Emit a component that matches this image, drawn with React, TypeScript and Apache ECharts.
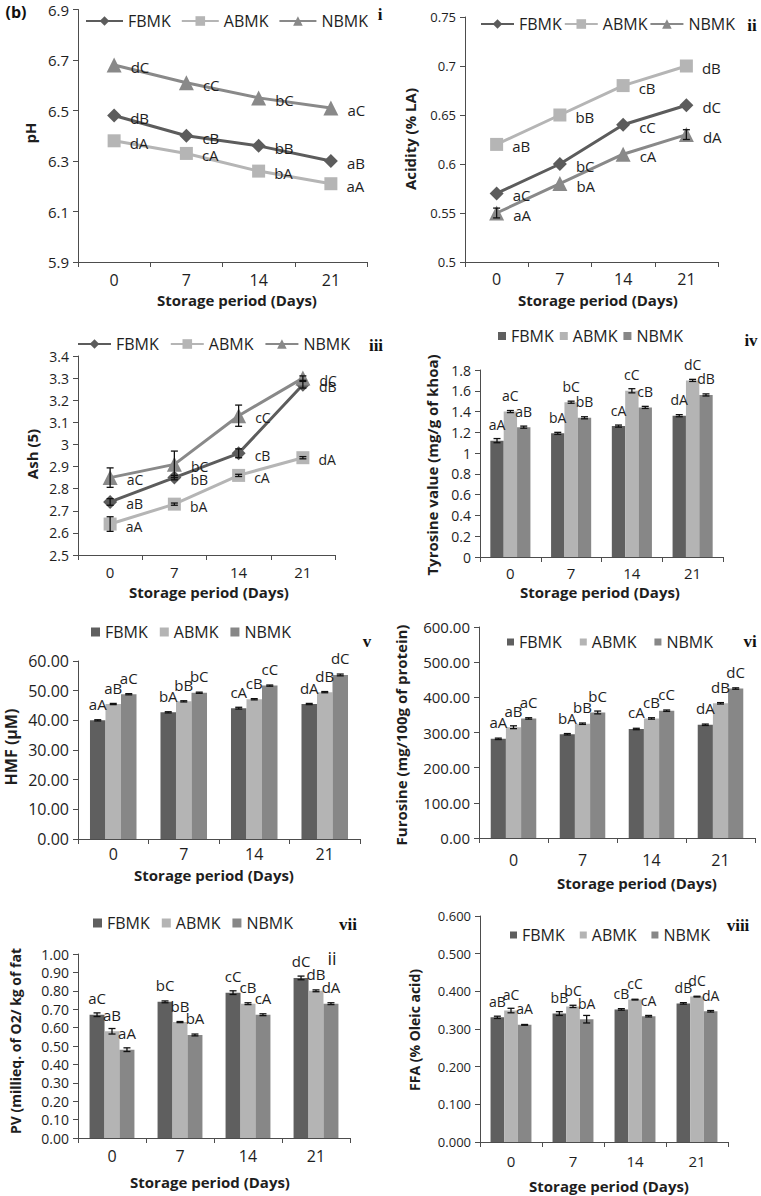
import React, { useEffect, useRef } from "react";
import * as echarts from "echarts";

// ---------- shared categories / series names ----------
const DAYS = ["0", "7", "14", "21"];
const NAMES = ["FBMK", "ABMK", "NBMK"];

// ---------- (i) pH ----------
const PH_FBMK = [6.48, 6.4, 6.36, 6.3];
const PH_ABMK = [6.38, 6.33, 6.26, 6.21];
const PH_NBMK = [6.68, 6.61, 6.55, 6.51];
const PH_LBL_FBMK = ["dB", "cB", "bB", "aB"];
const PH_LBL_ABMK = ["dA", "cA", "bA", "aA"];
const PH_LBL_NBMK = ["dC", "cC", "bC", "aC"];
const PH_ERR_FBMK = [0, 0, 0, 0];
const PH_ERR_ABMK = [0, 0, 0, 0];
const PH_ERR_NBMK = [0, 0, 0, 0];
const PH_RANGE = [5.9, 6.9, 0.2];

// ---------- (ii) Acidity ----------
const AC_FBMK = [0.57, 0.6, 0.64, 0.66];
const AC_ABMK = [0.62, 0.65, 0.68, 0.7];
const AC_NBMK = [0.55, 0.58, 0.61, 0.63];
const AC_LBL_FBMK = ["aC", "bC", "cC", "dC"];
const AC_LBL_ABMK = ["aB", "bB", "cB", "dB"];
const AC_LBL_NBMK = ["aA", "bA", "cA", "dA"];
const AC_ERR_FBMK = [0, 0, 0, 0];
const AC_ERR_ABMK = [0, 0, 0, 0];
const AC_ERR_NBMK = [0.005, 0, 0, 0.005];
const AC_RANGE = [0.5, 0.75, 0.05];

// ---------- (iii) Ash ----------
const ASH_FBMK = [2.74, 2.85, 2.96, 3.27];
const ASH_ABMK = [2.64, 2.73, 2.86, 2.94];
const ASH_NBMK = [2.85, 2.91, 3.13, 3.3];
const ASH_LBL_FBMK = ["aB", "bB", "cB", "dB"];
const ASH_LBL_ABMK = ["aA", "bA", "cA", "dA"];
const ASH_LBL_NBMK = ["aC", "bC", "cC", "dC"];
const ASH_ERR_FBMK = [0.015, 0.01, 0.02, 0.015];
const ASH_ERR_ABMK = [0.033, 0.005, 0.005, 0.005];
const ASH_ERR_NBMK = [0.044, 0.06, 0.048, 0.01];
const ASH_RANGE = [2.5, 3.4, 0.1];

// ---------- (iv) Tyrosine ----------
const TY_FBMK = [1.12, 1.19, 1.26, 1.36];
const TY_ABMK = [1.4, 1.49, 1.6, 1.7];
const TY_NBMK = [1.25, 1.34, 1.44, 1.56];
const TY_LBL_FBMK = ["aA", "bA", "cA", "dA"];
const TY_LBL_ABMK = ["aC", "bC", "cC", "dC"];
const TY_LBL_NBMK = ["aB", "bB", "cB", "dB"];
const TY_ERR_FBMK = [0.02, 0.01, 0.01, 0.01];
const TY_ERR_ABMK = [0.01, 0.01, 0.02, 0.01];
const TY_ERR_NBMK = [0.01, 0.01, 0.01, 0.01];
const TY_RANGE = [0, 1.8, 0.2];

// ---------- (v) HMF ----------
const HMF_FBMK = [40.0, 42.7, 44.1, 45.5];
const HMF_ABMK = [45.5, 46.4, 47.1, 49.5];
const HMF_NBMK = [48.8, 49.3, 51.7, 55.3];
const HMF_LBL_FBMK = ["aA", "bA", "cA", "dA"];
const HMF_LBL_ABMK = ["aB", "bB", "cB", "dB"];
const HMF_LBL_NBMK = ["aC", "bC", "cC", "dC"];
const HMF_ERR_FBMK = [0.2, 0.2, 0.3, 0.2];
const HMF_ERR_ABMK = [0.2, 0.2, 0.2, 0.2];
const HMF_ERR_NBMK = [0.2, 0.2, 0.2, 0.3];
const HMF_RANGE = [0, 60, 10];

// ---------- (vi) Furosine ----------
const FU_FBMK = [282, 295, 310, 322];
const FU_ABMK = [315, 325, 340, 383];
const FU_NBMK = [340, 357, 362, 425];
const FU_LBL_FBMK = ["aA", "bA", "cA", "dA"];
const FU_LBL_ABMK = ["aB", "bB", "cB", "dB"];
const FU_LBL_NBMK = ["aC", "bC", "cC", "dC"];
const FU_ERR_FBMK = [2, 2, 2, 2];
const FU_ERR_ABMK = [4, 2, 2, 2];
const FU_ERR_NBMK = [2, 4, 2, 2];
const FU_RANGE = [0, 600, 100];

// ---------- (vii) PV ----------
const PV_FBMK = [0.67, 0.74, 0.79, 0.87];
const PV_ABMK = [0.58, 0.63, 0.73, 0.8];
const PV_NBMK = [0.48, 0.56, 0.67, 0.73];
const PV_LBL_FBMK = ["aC", "bC", "cC", "dC"];
const PV_LBL_ABMK = ["aB", "bB", "cB", "dB"];
const PV_LBL_NBMK = ["aA", "bA", "cA", "dA"];
const PV_ERR_FBMK = [0.01, 0.005, 0.01, 0.01];
const PV_ERR_ABMK = [0.015, 0.003, 0.005, 0.005];
const PV_ERR_NBMK = [0.01, 0.005, 0.005, 0.005];
const PV_RANGE = [0, 1, 0.1];

// ---------- (viii) FFA ----------
const FFA_FBMK = [0.331, 0.341, 0.352, 0.368];
const FFA_ABMK = [0.349, 0.36, 0.378, 0.386];
const FFA_NBMK = [0.311, 0.326, 0.334, 0.347];
const FFA_LBL_FBMK = ["aB", "bB", "cB", "dB"];
const FFA_LBL_ABMK = ["aC", "bC", "cC", "dC"];
const FFA_LBL_NBMK = ["aA", "bA", "cA", "dA"];
const FFA_ERR_FBMK = [0.003, 0.005, 0.002, 0.002];
const FFA_ERR_ABMK = [0.006, 0.003, 0.001, 0.001];
const FFA_ERR_NBMK = [0.001, 0.01, 0.002, 0.002];
const FFA_RANGE = [0, 0.6, 0.1];

const X_TITLE = "Storage period (Days)";

type Panel = {
  kind: "line" | "bar";
  values: number[][];
  labels: string[][];
  errors: number[][];
  range: number[];
  digits: number;
  yTitle: string;
  id: string;
};

const PANELS: Panel[] = [
  { kind: "line", values: [PH_FBMK, PH_ABMK, PH_NBMK], labels: [PH_LBL_FBMK, PH_LBL_ABMK, PH_LBL_NBMK], errors: [PH_ERR_FBMK, PH_ERR_ABMK, PH_ERR_NBMK], range: PH_RANGE, digits: 1, yTitle: "pH", id: "i" },
  { kind: "line", values: [AC_FBMK, AC_ABMK, AC_NBMK], labels: [AC_LBL_FBMK, AC_LBL_ABMK, AC_LBL_NBMK], errors: [AC_ERR_FBMK, AC_ERR_ABMK, AC_ERR_NBMK], range: AC_RANGE, digits: -1, yTitle: "Acidity (% LA)", id: "ii" },
  { kind: "line", values: [ASH_FBMK, ASH_ABMK, ASH_NBMK], labels: [ASH_LBL_FBMK, ASH_LBL_ABMK, ASH_LBL_NBMK], errors: [ASH_ERR_FBMK, ASH_ERR_ABMK, ASH_ERR_NBMK], range: ASH_RANGE, digits: -1, yTitle: "Ash (5)", id: "iii" },
  { kind: "bar", values: [TY_FBMK, TY_ABMK, TY_NBMK], labels: [TY_LBL_FBMK, TY_LBL_ABMK, TY_LBL_NBMK], errors: [TY_ERR_FBMK, TY_ERR_ABMK, TY_ERR_NBMK], range: TY_RANGE, digits: -1, yTitle: "Tyrosine value (mg/g of khoa)", id: "iv" },
  { kind: "bar", values: [HMF_FBMK, HMF_ABMK, HMF_NBMK], labels: [HMF_LBL_FBMK, HMF_LBL_ABMK, HMF_LBL_NBMK], errors: [HMF_ERR_FBMK, HMF_ERR_ABMK, HMF_ERR_NBMK], range: HMF_RANGE, digits: 2, yTitle: "HMF (µM)", id: "v" },
  { kind: "bar", values: [FU_FBMK, FU_ABMK, FU_NBMK], labels: [FU_LBL_FBMK, FU_LBL_ABMK, FU_LBL_NBMK], errors: [FU_ERR_FBMK, FU_ERR_ABMK, FU_ERR_NBMK], range: FU_RANGE, digits: 2, yTitle: "Furosine (mg/100g of protein)", id: "vi" },
  { kind: "bar", values: [PV_FBMK, PV_ABMK, PV_NBMK], labels: [PV_LBL_FBMK, PV_LBL_ABMK, PV_LBL_NBMK], errors: [PV_ERR_FBMK, PV_ERR_ABMK, PV_ERR_NBMK], range: PV_RANGE, digits: 2, yTitle: "PV (millieq. of O2/ kg of fat", id: "vii" },
  { kind: "bar", values: [FFA_FBMK, FFA_ABMK, FFA_NBMK], labels: [FFA_LBL_FBMK, FFA_LBL_ABMK, FFA_LBL_NBMK], errors: [FFA_ERR_FBMK, FFA_ERR_ABMK, FFA_ERR_NBMK], range: FFA_RANGE, digits: 3, yTitle: "FFA (% Oleic acid)", id: "viii" },
];

// ---------- layout (pixels) ----------
type Lay = {
  grid: number[];
  yFs: number;
  xFs: number;
  xMargin: number;
  lg: { left: number; cy: number; gap: number; iw: number; fs: number };
  yT: number[];
  xT: number[];
  idP: number[];
  lblFs: number;
};

const LAYOUT: Lay[] = [
  { grid: [78, 9.5, 289, 252.5], yFs: 15, xFs: 16, xMargin: 10, lg: { left: 85, cy: 22, gap: 10, iw: 37, fs: 16 }, yT: [30, 133, 15], xT: [237, 300], idP: [380, 14], lblFs: 15 },
  { grid: [465, 17, 253, 245], yFs: 13, xFs: 16, xMargin: 9, lg: { left: 480, cy: 25, gap: 2, iw: 33, fs: 16 }, yT: [410, 139, 15], xT: [598, 300], idP: [752, 25], lblFs: 15 },
  { grid: [78, 356, 257, 199], yFs: 14, xFs: 15, xMargin: 9, lg: { left: 77, cy: 345, gap: 11, iw: 33, fs: 16 }, yT: [32, 454, 15], xT: [209, 592], idP: [376, 345], lblFs: 14 },
  { grid: [480, 370, 243, 187], yFs: 14, xFs: 15, xMargin: 8, lg: { left: 498, cy: 337, gap: 6, iw: 8, fs: 16 }, yT: [432, 465, 15], xT: [600, 592], idP: [751, 340], lblFs: 14 },
  { grid: [78, 661, 282, 178], yFs: 16, xFs: 16, xMargin: 7, lg: { left: 91, cy: 633, gap: 12, iw: 9, fs: 16 }, yT: [11, 747, 16], xT: [214, 875], idP: [367, 641], lblFs: 15 },
  { grid: [479, 627, 276, 211], yFs: 15, xFs: 16, xMargin: 14, lg: { left: 507, cy: 643, gap: 18, iw: 7, fs: 16 }, yT: [401, 735, 15], xT: [637, 883], idP: [750, 641], lblFs: 15 },
  { grid: [78, 954, 272, 184], yFs: 14, xFs: 16, xMargin: 10, lg: { left: 93, cy: 924, gap: 12, iw: 9, fs: 16 }, yT: [15, 1041, 14], xT: [210, 1182], idP: [348, 924], lblFs: 15 },
  { grid: [480, 916, 248, 226], yFs: 13, xFs: 15, xMargin: 11, lg: { left: 510, cy: 936, gap: 15, iw: 7, fs: 16 }, yT: [414, 1030, 14], xT: [609, 1186], idP: [738, 925], lblFs: 14 },
];

const FONT = "'Open Sans', 'Noto Sans', sans-serif";
const SERIF = "'Liberation Serif', 'DejaVu Serif', serif";
const TXT = "#1e1e1e";
const AXIS = "#4d4d4d";
const LINE_C = ["#5c5c5c", "#b5b5b5", "#898989"];
const BAR_C = ["#5f5f5f", "#b4b4b4", "#878787"];
const SYMBOLS = ["diamond", "rect", "triangle"];
const SYM_SIZE = [14, 13, 15];
const BAR_W = 0.22;

function fmt(v: number, digits: number): string {
  if (digits >= 0) return v.toFixed(digits);
  return String(parseFloat(v.toFixed(3)));
}

function buildOption() {
  const grid: any[] = [];
  const xAxis: any[] = [];
  const yAxis: any[] = [];
  const series: any[] = [];
  const legend: any[] = [];
  const graphic: any[] = [];

  PANELS.forEach((p, k) => {
    const L = LAYOUT[k];
    grid.push({ left: L.grid[0], top: L.grid[1], width: L.grid[2], height: L.grid[3], containLabel: false });
    xAxis.push({
      type: "category",
      gridIndex: k,
      data: DAYS,
      boundaryGap: true,
      axisLine: { show: true, lineStyle: { color: AXIS, width: 1 } },
      axisTick: { show: true, length: 5, lineStyle: { color: AXIS } },
      axisLabel: { fontSize: L.xFs, color: TXT, fontFamily: FONT, margin: L.xMargin },
      splitLine: { show: false },
    });
    yAxis.push({
      type: "value",
      gridIndex: k,
      min: p.range[0],
      max: p.range[1],
      interval: p.range[2],
      axisLine: { show: true, lineStyle: { color: AXIS, width: 1 } },
      axisTick: { show: true, length: 5, lineStyle: { color: AXIS } },
      splitLine: { show: false },
      axisLabel: { fontSize: L.yFs, color: TXT, fontFamily: FONT, margin: 9, formatter: (v: number) => fmt(v, p.digits) },
    });

    const legendData: string[] = [];
    NAMES.forEach((nm, s) => {
      const sname = nm + "#" + k;
      legendData.push(sname);
      const labels = p.labels[s];
      if (p.kind === "line") {
        series.push({
          type: "line",
          name: sname,
          xAxisIndex: k,
          yAxisIndex: k,
          data: p.values[s],
          symbol: SYMBOLS[s],
          symbolSize: SYM_SIZE[s],
          lineStyle: { color: LINE_C[s], width: 3 },
          itemStyle: { color: LINE_C[s] },
          label: {
            show: true,
            position: "right",
            distance: 9,
            offset: [0, 2],
            formatter: (q: any) => labels[q.dataIndex],
            fontSize: L.lblFs,
            color: TXT,
            fontFamily: FONT,
          },
          z: 3,
        });
      } else {
        series.push({
          type: "bar",
          name: sname,
          xAxisIndex: k,
          yAxisIndex: k,
          data: p.values[s],
          barWidth: BAR_W * 100 + "%",
          barGap: "0%",
          itemStyle: { color: BAR_C[s] },
          label: {
            show: true,
            position: "top",
            distance: 9,
            formatter: (q: any) => labels[q.dataIndex],
            fontSize: L.lblFs,
            color: TXT,
            fontFamily: FONT,
          },
          z: 2,
        });
      }
      const errs = p.errors[s];
      const vals = p.values[s];
      const errData: number[][] = [];
      errs.forEach((e, i) => {
        if (e > 0) errData.push([i, vals[i] - e, vals[i] + e]);
      });
      if (errData.length) {
        const off = p.kind === "bar" ? (s - 1) * BAR_W : 0;
        series.push({
          type: "custom",
          name: "err" + k + "_" + s,
          xAxisIndex: k,
          yAxisIndex: k,
          data: errData,
          encode: { x: 0, y: [1, 2] },
          z: 10,
          silent: true,
          renderItem: (params: any, api: any) => {
            const ci = api.value(0);
            const lo = api.coord([ci, api.value(1)]);
            const hi = api.coord([ci, api.value(2)]);
            const band = api.size([1, 0])[0];
            const x = lo[0] + off * band;
            const cap = 3.5;
            const st = { stroke: "#111", lineWidth: 1.3 };
            return {
              type: "group",
              children: [
                { type: "line", shape: { x1: x, y1: lo[1], x2: x, y2: hi[1] }, style: st },
                { type: "line", shape: { x1: x - cap, y1: hi[1], x2: x + cap, y2: hi[1] }, style: st },
                { type: "line", shape: { x1: x - cap, y1: lo[1], x2: x + cap, y2: lo[1] }, style: st },
              ],
            };
          },
        });
      }
    });

    const isLine = p.kind === "line";
    legend.push({
      data: legendData,
      left: L.lg.left,
      top: L.lg.cy - 9,
      orient: "horizontal",
      padding: 0,
      itemGap: L.lg.gap,
      itemWidth: L.lg.iw,
      itemHeight: isLine ? 12 : L.lg.iw,
      icon: isLine ? undefined : "rect",
      selectedMode: false,
      formatter: (n: string) => n.split("#")[0],
      textStyle: { fontSize: L.lg.fs, color: TXT, fontFamily: FONT },
    });

    graphic.push({
      type: "text",
      x: L.yT[0],
      y: L.yT[1],
      rotation: Math.PI / 2,
      style: { text: p.yTitle, fontSize: L.yT[2], fontWeight: "bold", fontFamily: FONT, fill: TXT, align: "center", verticalAlign: "middle" },
    });
    graphic.push({
      type: "text",
      x: L.xT[0],
      y: L.xT[1],
      style: { text: X_TITLE, fontSize: 15, fontWeight: "bold", fontFamily: FONT, fill: TXT, align: "center", verticalAlign: "middle" },
    });
    graphic.push({
      type: "text",
      x: L.idP[0],
      y: L.idP[1],
      style: { text: p.id, fontSize: 17, fontWeight: "bold", fontFamily: SERIF, fill: "#111", align: "center", verticalAlign: "middle" },
    });
  });

  graphic.push({
    type: "text",
    x: 16,
    y: 12,
    style: { text: "(b)", fontSize: 16, fontWeight: "bold", fontFamily: FONT, fill: "#111", align: "center", verticalAlign: "middle" },
  });
  graphic.push({
    type: "text",
    x: 332,
    y: 958,
    style: { text: "ii", fontSize: 18, fontFamily: FONT, fill: TXT, align: "center", verticalAlign: "middle" },
  });

  return {
    animation: false,
    backgroundColor: "#ffffff",
    textStyle: { fontFamily: FONT },
    grid,
    xAxis,
    yAxis,
    legend,
    series,
    graphic,
  };
}

export default function App() {
  const ref = useRef<HTMLDivElement>(null);
  useEffect(() => {
    document.body.style.margin = "0";
    if (!ref.current) return;
    const chart = echarts.init(ref.current, undefined, { renderer: "svg" });
    chart.setOption(buildOption() as any);
    return () => chart.dispose();
  }, []);
  return (
    <div>
      <style>{"body{margin:0;}"}</style>
      <div ref={ref} style={{ width: 761, height: 1196 }} />
    </div>
  );
}
